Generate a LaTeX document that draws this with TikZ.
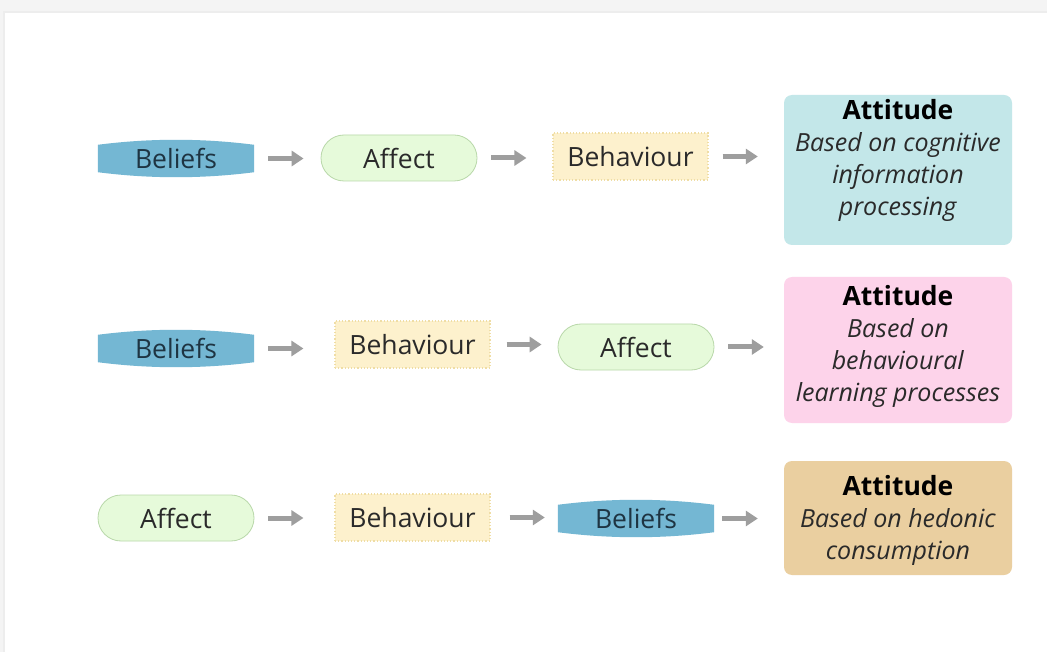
\documentclass[tikz,border=0pt]{standalone}
\usepackage{fontspec}
\setmainfont{Open Sans}
\usetikzlibrary{arrows.meta,shapes.misc,backgrounds}
\definecolor{bfill}{HTML}{74B7D3}
\definecolor{btext}{HTML}{1E3442}
\definecolor{afill}{HTML}{E6FADA}
\definecolor{aline}{HTML}{B9D8AA}
\definecolor{hfill}{HTML}{FDF1CD}
\definecolor{hline}{HTML}{EFDDA5}
\definecolor{att1}{HTML}{C3E7E9}
\definecolor{att2}{HTML}{FDD3EA}
\definecolor{att3}{HTML}{EACFA0}
\definecolor{arrgray}{HTML}{9E9E9E}
\definecolor{txt}{HTML}{2A2A2A}
\newcommand\beliefshape[1]{%
  \fill[bfill] ([yshift=-5pt]#1.north west)
    .. controls ([xshift=52pt,yshift=1.7pt]#1.north west) and ([xshift=-52pt,yshift=1.7pt]#1.north east) .. ([yshift=-5pt]#1.north east)
    -- ([yshift=5pt]#1.south east)
    .. controls ([xshift=-52pt,yshift=-1.7pt]#1.south east) and ([xshift=52pt,yshift=-1.7pt]#1.south west) .. ([yshift=5pt]#1.south west)
    -- cycle;}
\newcommand\atthead{\textbf{\textcolor{black}{\fontsize{26.5}{32}\selectfont Attitude}}}
\tikzset{
  lbl/.style={font=\fontsize{26.5}{30}\selectfont, text=txt, inner sep=0pt},
  beliefsnode/.style={lbl, text=btext, minimum width=156pt, minimum height=37pt},
  affectnode/.style={lbl, rounded rectangle, fill=afill, draw=aline, line width=0.8pt, minimum width=156pt, minimum height=46pt},
  behavnode/.style={lbl, rectangle, fill=hfill, draw=hline, dotted, line width=1.2pt, minimum width=155pt, minimum height=47pt},
  attbox/.style={rectangle, rounded corners=8pt, minimum width=228pt, inner sep=0pt},
  atttext/.style={align=center, text=txt, inner sep=0pt, font=\fontsize{25}{32}\selectfont},
  arr/.style={draw=arrgray, line width=5pt, -{Triangle[length=12pt,width=15pt]}},
}
\begin{document}
\begin{tikzpicture}[x=1pt,y=-1pt]
\useasboundingbox (0,0) rectangle (1047,652);
\begin{scope}[on background layer]
  \fill[gray!9] (0,0) rectangle (1047,652);
  \fill[gray!14] (3,11) rectangle (1047,652);
  \fill[white] (5,13) rectangle (1047,652);
\end{scope}
% row 1
\node[beliefsnode] (b1) at (176,158.5) {Beliefs};
\node[affectnode] (a1) at (399,158) {Affect};
\node[behavnode] (h1) at (630.5,156.5) {Behaviour};
\node[attbox, fill=att1, minimum height=150pt] (t1) at (898,170) {};
\node[atttext] (t1x) at (898,160) {\atthead\\\textit{Based on cognitive}\\\textit{information}\\\textit{processing}};
% row 2
\node[beliefsnode] (b2) at (176,348.5) {Beliefs};
\node[behavnode] (h2) at (412.5,344.5) {Behaviour};
\node[affectnode] (a2) at (636,347) {Affect};
\node[attbox, fill=att2, minimum height=146pt] (t2) at (898,350) {};
\node[atttext] (t2x) at (898,346) {\atthead\\\textit{Based on}\\\textit{behavioural}\\\textit{learning processes}};
% row 3
\node[affectnode] (a3) at (176,518) {Affect};
\node[behavnode] (h3) at (412.5,517.5) {Behaviour};
\node[beliefsnode] (b3) at (636,518.5) {Beliefs};
\node[attbox, fill=att3, minimum height=114pt] (t3) at (898,518) {};
\node[atttext] (t3x) at (898,520) {\atthead\\\textit{Based on hedonic}\\\textit{consumption}};
\begin{scope}[on background layer]
  \beliefshape{b1}
  \beliefshape{b2}
  \beliefshape{b3}
\end{scope}
% arrows
\draw[arr, shorten <=14pt, shorten >=17pt] (b1.east) -- (b1.east -| a1.west);
\draw[arr, shorten <=14pt, shorten >=26pt] (a1.east) -- (a1.east -| h1.west);
\draw[arr, shorten <=14pt, shorten >=26pt] (h1.east) -- (h1.east -| t1.west);
\draw[arr, shorten <=14pt, shorten >=31pt] (b2.east) -- (b2.east -| h2.west);
\draw[arr, shorten <=16pt, shorten >=16pt] (h2.east) -- (h2.east -| a2.west);
\draw[arr, shorten <=14pt, shorten >=20pt] (a2.east) -- (a2.east -| t2.west);
\draw[arr, shorten <=14pt, shorten >=31pt] (a3.east) -- (a3.east -| h3.west);
\draw[arr, shorten <=19pt, shorten >=13pt] (h3.east) -- (h3.east -| b3.west);
\draw[arr, shorten <=8pt, shorten >=26pt] (b3.east) -- (b3.east -| t3.west);
\end{tikzpicture}
\end{document}
